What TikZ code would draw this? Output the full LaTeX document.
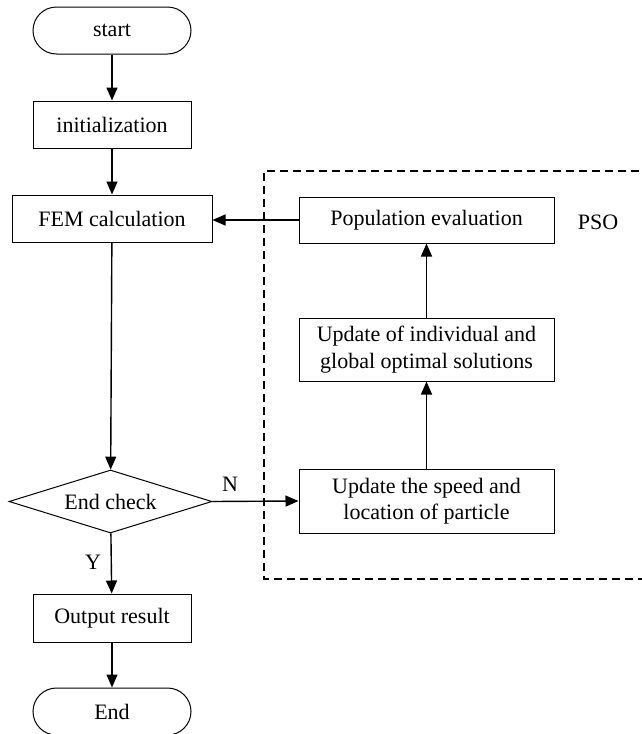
\documentclass[tikz,border=0pt]{standalone}
\usepackage{fontspec}
\setmainfont{Liberation Serif}
\usetikzlibrary{arrows.meta,shapes.geometric}
\begin{document}
\begin{tikzpicture}[x=1pt,y=-1pt,
  box/.style={draw,line width=1pt,inner sep=0pt,align=center,font=\fontsize{22}{26.5}\selectfont},
  term/.style={box,rounded corners=23.5pt,minimum width=158pt,minimum height=47pt},
  dec/.style={draw,line width=1pt,shape=diamond,aspect=3.2,inner sep=0pt,minimum width=203pt,minimum height=63pt,font=\fontsize{22}{26.5}\selectfont},
  arr/.style={line width=1.4pt,-{Triangle[length=13pt,width=11pt]}},
  lab/.style={font=\fontsize{22}{26.5}\selectfont,inner sep=0pt}]
\useasboundingbox (0,0) rectangle (641,734);
\node[term] (start) at (112,30.5) {start};
\node[box,minimum width=158pt,minimum height=47pt] (init) at (112,124.5) {initialization};
\node[box,minimum width=200pt,minimum height=47pt] (fem) at (112,218.5) {FEM calculation};
\node[dec] (chk) at (110.5,501.5) {End check};
\node[box,minimum width=158pt,minimum height=48pt] (out) at (112,618) {Output result};
\node[term] (end) at (112,711.5) {End};
\node[box,minimum width=255pt,minimum height=46pt] (pop) at (426.5,220) {Population evaluation};
\node[box,minimum width=255pt,minimum height=63pt] (ind) at (426.5,349.5) {Update of individual and\\global optimal solutions};
\node[box,minimum width=255pt,minimum height=64pt] (spd) at (426.5,501) {Update the speed and\\location of particle};
\node[lab] (pso) at (598,222) {PSO};
\node[lab] (nlab) at (230,484) {N};
\node[lab] (ylab) at (93,562) {Y};
\draw[line width=1.2pt,dash pattern=on 8pt off 5pt] (652,171) -- (264,171) -- (264,579) -- (652,579);
\draw[arr] (start) -- (init);
\draw[arr] (init) -- (fem);
\draw[arr] (fem) -- (chk);
\draw[arr] (chk) -- (out);
\draw[arr] (out) -- (end);
\draw[arr] (chk.east) -- (spd.west);
\draw[arr] (spd) -- (ind);
\draw[arr] (ind) -- (pop);
\draw[arr] (pop.west) -- (pop.west -| fem.east);
\end{tikzpicture}
\end{document}
